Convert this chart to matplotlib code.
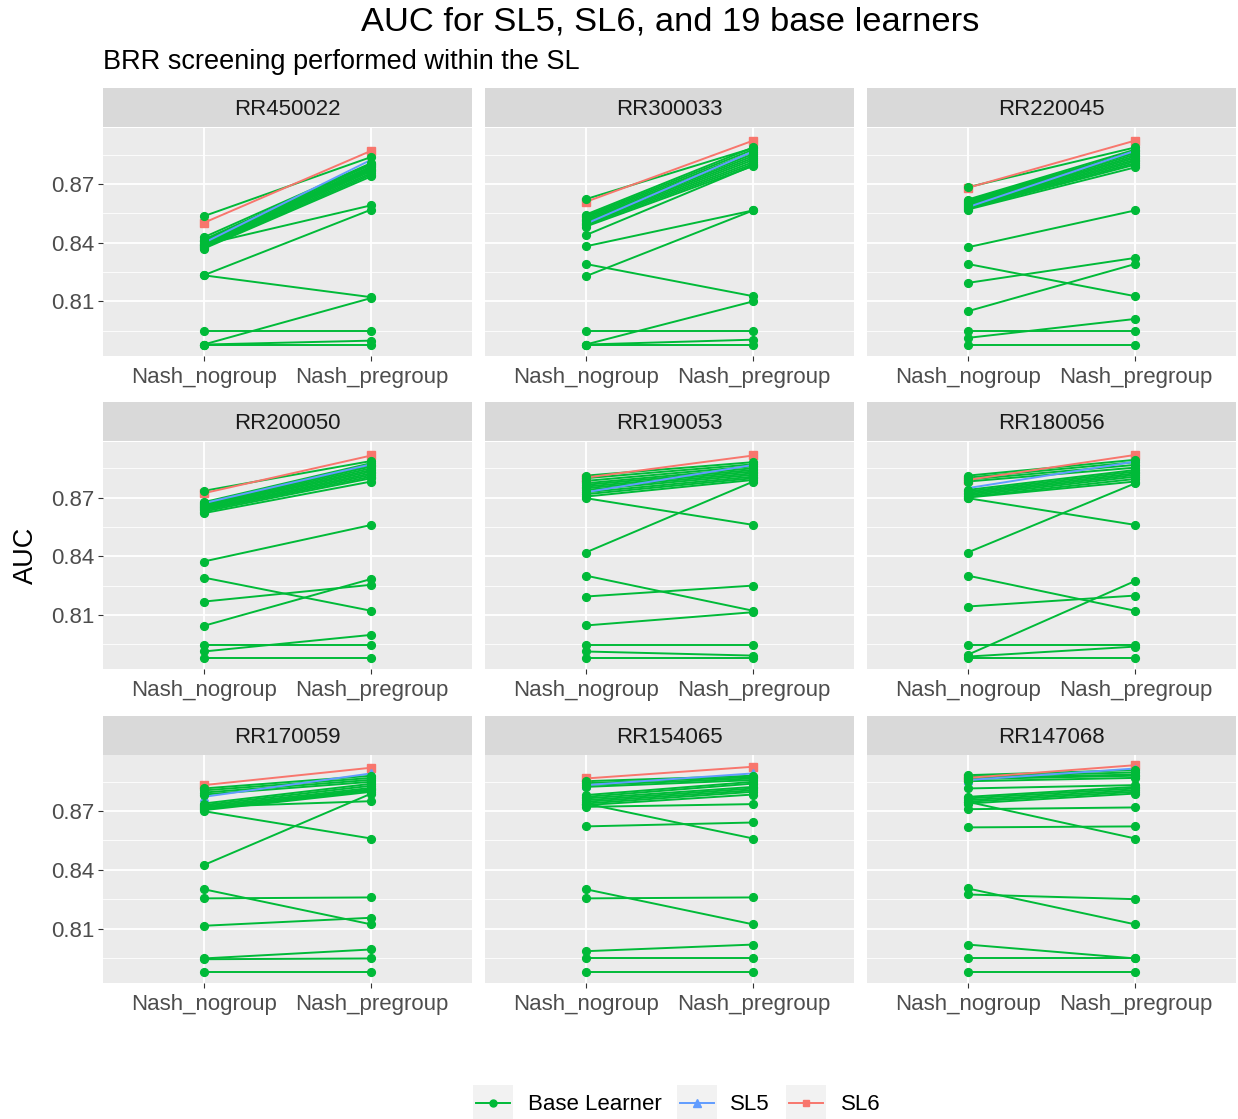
import matplotlib
matplotlib.use("Agg")
import matplotlib.pyplot as plt
from matplotlib.patches import Rectangle
from matplotlib.lines import Line2D

plt.rcParams['font.family'] = ['Liberation Sans', 'DejaVu Sans']

# AUC of the 19 base learners, per screening threshold (same learner order within a panel)
rr450022_nogroup = [0.8535, 0.8427, 0.8415, 0.8410, 0.8407, 0.8398, 0.8393, 0.8390, 0.8385, 0.8380,
                    0.8373, 0.8369, 0.8390, 0.8233, 0.8233, 0.7947, 0.7879, 0.7879, 0.7879]
rr450022_pregroup = [0.8838, 0.8807, 0.8799, 0.8802, 0.8790, 0.8785, 0.8778, 0.8772, 0.8765, 0.8756,
                     0.8748, 0.8739, 0.8591, 0.8569, 0.8121, 0.7947, 0.8117, 0.7899, 0.7879]

rr300033_nogroup = [0.8622, 0.8543, 0.8536, 0.8530, 0.8523, 0.8516, 0.8509, 0.8502, 0.8496, 0.8489,
                    0.8482, 0.8438, 0.8381, 0.8291, 0.8228, 0.7947, 0.7879, 0.7879, 0.7879]
rr300033_pregroup = [0.8884, 0.8887, 0.8876, 0.8864, 0.8853, 0.8843, 0.8833, 0.8823, 0.8812, 0.8802,
                     0.8792, 0.8795, 0.8565, 0.8126, 0.8565, 0.7947, 0.8100, 0.7904, 0.7879]

rr220045_nogroup = [0.8683, 0.8620, 0.8615, 0.8610, 0.8605, 0.8599, 0.8594, 0.8589, 0.8584, 0.8579,
                    0.8574, 0.8569, 0.8376, 0.8291, 0.8194, 0.8049, 0.7947, 0.7913, 0.7879]
rr220045_pregroup = [0.8887, 0.8876, 0.8867, 0.8859, 0.8850, 0.8841, 0.8833, 0.8824, 0.8816, 0.8807,
                     0.8799, 0.8785, 0.8565, 0.8126, 0.8322, 0.8291, 0.7947, 0.8010, 0.7879]

rr200050_nogroup = [0.8734, 0.8676, 0.8671, 0.8666, 0.8661, 0.8656, 0.8651, 0.8645, 0.8640, 0.8635,
                    0.8628, 0.8620, 0.8373, 0.8291, 0.8168, 0.8044, 0.7947, 0.7913, 0.7879]
rr200050_pregroup = [0.8887, 0.8876, 0.8867, 0.8859, 0.8850, 0.8841, 0.8833, 0.8824, 0.8816, 0.8807,
                     0.8799, 0.8782, 0.8560, 0.8121, 0.8254, 0.8284, 0.7947, 0.7998, 0.7879]

rr190053_nogroup = [0.8812, 0.8799, 0.8785, 0.8773, 0.8765, 0.8756, 0.8748, 0.8739, 0.8727, 0.8717,
                    0.8705, 0.8697, 0.8419, 0.8301, 0.8194, 0.8046, 0.7947, 0.7913, 0.7879]
rr190053_pregroup = [0.8881, 0.8870, 0.8860, 0.8850, 0.8841, 0.8833, 0.8824, 0.8816, 0.8807, 0.8799,
                     0.8790, 0.8560, 0.8782, 0.8121, 0.8250, 0.8114, 0.7947, 0.7892, 0.7879]

rr180056_nogroup = [0.8812, 0.8802, 0.8792, 0.8782, 0.8739, 0.8731, 0.8724, 0.8717, 0.8710, 0.8703,
                    0.8700, 0.8697, 0.8419, 0.8301, 0.8143, 0.7896, 0.7947, 0.7887, 0.7879]
rr180056_pregroup = [0.8893, 0.8881, 0.8867, 0.8853, 0.8841, 0.8833, 0.8824, 0.8816, 0.8807, 0.8795,
                     0.8782, 0.8560, 0.8773, 0.8121, 0.8199, 0.8274, 0.7947, 0.7938, 0.7879]

rr170059_nogroup = [0.8816, 0.8806, 0.8795, 0.8785, 0.8739, 0.8731, 0.8724, 0.8717, 0.8710, 0.8705,
                    0.8722, 0.8700, 0.8424, 0.8301, 0.8254, 0.8114, 0.7947, 0.7943, 0.7879]
rr170059_pregroup = [0.8881, 0.8870, 0.8860, 0.8850, 0.8840, 0.8830, 0.8819, 0.8812, 0.8806, 0.8799,
                     0.8751, 0.8560, 0.8790, 0.8121, 0.8259, 0.8155, 0.7993, 0.7947, 0.7879]

rr154065_nogroup = [0.8853, 0.8843, 0.8833, 0.8824, 0.8782, 0.8773, 0.8765, 0.8756, 0.8748, 0.8739,
                    0.8731, 0.8722, 0.8739, 0.8622, 0.8301, 0.8254, 0.7984, 0.7947, 0.7879]
rr154065_pregroup = [0.8881, 0.8874, 0.8867, 0.8859, 0.8850, 0.8841, 0.8824, 0.8816, 0.8807, 0.8799,
                     0.8785, 0.8736, 0.8560, 0.8642, 0.8121, 0.8259, 0.8018, 0.7947, 0.7879]

rr147068_nogroup = [0.8884, 0.8877, 0.8870, 0.8864, 0.8853, 0.8816, 0.8773, 0.8765, 0.8756, 0.8748,
                    0.8739, 0.8710, 0.8617, 0.8748, 0.8305, 0.8274, 0.8018, 0.7947, 0.7879]
rr147068_pregroup = [0.8910, 0.8898, 0.8887, 0.8881, 0.8870, 0.8833, 0.8824, 0.8816, 0.8807, 0.8799,
                     0.8790, 0.8719, 0.8622, 0.8560, 0.8121, 0.8250, 0.7947, 0.7947, 0.7879]

panel_names = ["RR450022", "RR300033", "RR220045", "RR200050", "RR190053",
               "RR180056", "RR170059", "RR154065", "RR147068"]
base_nogroup = [rr450022_nogroup, rr300033_nogroup, rr220045_nogroup, rr200050_nogroup,
                rr190053_nogroup, rr180056_nogroup, rr170059_nogroup, rr154065_nogroup,
                rr147068_nogroup]
base_pregroup = [rr450022_pregroup, rr300033_pregroup, rr220045_pregroup, rr200050_pregroup,
                 rr190053_pregroup, rr180056_pregroup, rr170059_pregroup, rr154065_pregroup,
                 rr147068_pregroup]

# super learner AUCs, one per panel
sl5_nogroup = [0.8398, 0.8496, 0.8581, 0.8671, 0.8727, 0.8748, 0.8773, 0.8833, 0.8859]
sl5_pregroup = [0.8824, 0.8867, 0.8870, 0.8870, 0.8867, 0.8884, 0.8893, 0.8893, 0.8918]
sl6_nogroup = [0.8501, 0.8608, 0.8680, 0.8722, 0.8802, 0.8790, 0.8833, 0.8867, 0.8870]
sl6_pregroup = [0.8870, 0.8922, 0.8922, 0.8915, 0.8915, 0.8918, 0.8922, 0.8927, 0.8935]

x_labels = ["Nash_nogroup", "Nash_pregroup"]
y_ticks = [0.81, 0.84, 0.87]
y_minor = [0.795, 0.825, 0.855, 0.885]

GREEN = "#00BA38"
BLUE = "#619CFF"
RED = "#F8766D"

W, H = 1238, 1119
fig = plt.figure(figsize=(W / 100, H / 100), dpi=100)


def box(left, top, width, height):
    return [left / W, 1 - (top + height) / H, width / W, height / H]


col_left = [103, 485, 867]
row_top = [128, 441.6, 755.2]
panel_w, panel_h = 369, 227.7
strip_h = 39

xs = [1, 2]
for i, name in enumerate(panel_names):
    r, c = divmod(i, 3)
    ax = fig.add_axes(box(col_left[c], row_top[r], panel_w, panel_h))
    ax.set_facecolor("#EBEBEB")
    for s in ax.spines.values():
        s.set_visible(False)
    ax.set_xlim(0.4, 2.6)
    ax.set_ylim(0.7822, 0.8986)

    for y in y_minor:
        ax.axhline(y, color="white", lw=0.6, zorder=0)
    for y in y_ticks:
        ax.axhline(y, color="white", lw=1.3, zorder=0)
    for x in xs:
        ax.axvline(x, color="white", lw=1.3, zorder=0)

    # lines first, points on top
    for a, b in zip(base_nogroup[i], base_pregroup[i]):
        ax.plot(xs, [a, b], color=GREEN, lw=1.4, zorder=2)
    ax.plot(xs, [sl5_nogroup[i], sl5_pregroup[i]], color=BLUE, lw=1.4, zorder=2)
    ax.plot(xs, [sl6_nogroup[i], sl6_pregroup[i]], color=RED, lw=1.4, zorder=2)
    ax.plot(xs, [sl6_nogroup[i], sl6_pregroup[i]], ls="none", marker="s", ms=6.3,
            color=RED, zorder=3)
    ax.plot(xs, [sl5_nogroup[i], sl5_pregroup[i]], ls="none", marker="^", ms=6.3,
            color=BLUE, zorder=3)
    for a, b in zip(base_nogroup[i], base_pregroup[i]):
        ax.plot(xs, [a, b], ls="none", marker="o", ms=5.6, color=GREEN, zorder=4)

    ax.set_xticks(xs)
    ax.set_xticklabels(x_labels)
    ax.set_yticks(y_ticks)
    ax.tick_params(axis="both", length=3.3, width=0.8, color="#333333",
                   labelcolor="#4D4D4D", labelsize=16)
    ax.tick_params(axis="x", pad=4.5)
    ax.tick_params(axis="y", pad=3)
    if c == 0:
        ax.set_yticklabels(["0.81", "0.84", "0.87"])
    else:
        ax.tick_params(axis="y", left=False, labelleft=False)

    sax = fig.add_axes(box(col_left[c], row_top[r] - strip_h - 0.6, panel_w, strip_h))
    sax.set_facecolor("#D9D9D9")
    sax.set_xticks([])
    sax.set_yticks([])
    for s in sax.spines.values():
        s.set_visible(False)
    sax.text(0.5, 0.45, name, ha="center", va="center", fontsize=16,
             color="#1A1A1A", transform=sax.transAxes)

fig.text(670 / W, 1 - 22 / H, "AUC for SL5, SL6, and 19 base learners",
         ha="center", va="center", fontsize=24.8, color="black")
fig.text(103 / W, 1 - 62 / H, "BRR screening performed within the SL",
         ha="left", va="center", fontsize=19.5, color="black")
fig.text(26 / W, 1 - 555 / H, "AUC", rotation=90, ha="center", va="center",
         fontsize=19.5, color="black")

# legend drawn on an overlay in pixel units
lax = fig.add_axes([0, 0, 1, 1])
lax.set_xlim(0, W)
lax.set_ylim(H, 0)
lax.axis("off")
legend_items = [("Base Learner", GREEN, "o", 5.0, 472.7, 528),
                ("SL5", BLUE, "^", 5.5, 676.7, 730),
                ("SL6", RED, "s", 5.0, 786.0, 841)]
for label, color, marker, ms, kx, tx in legend_items:
    lax.add_patch(Rectangle((kx, 1085), 40, 34, facecolor="#F2F2F2", edgecolor="none"))
    lax.add_line(Line2D([kx + 3, kx + 37], [1103, 1103], color=color, lw=1.4))
    lax.plot([kx + 20], [1103], marker=marker, ms=ms, color=color, ls="none")
    lax.text(tx, 1105, label, ha="left", va="center", fontsize=16, color="black")

fig.savefig("out.png", dpi=100)
